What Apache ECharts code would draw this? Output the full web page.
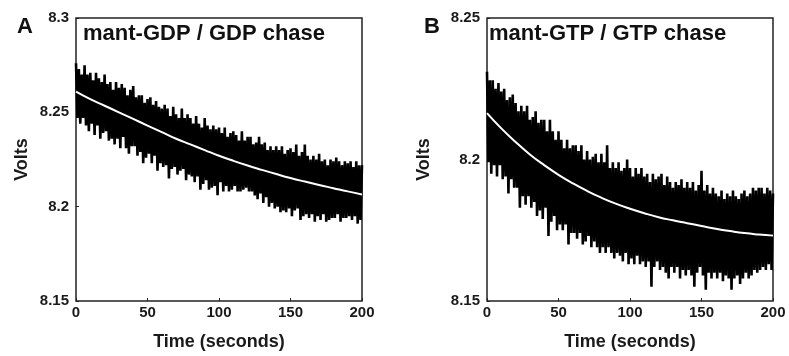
<!DOCTYPE html>
<html><head><meta charset="utf-8">
<script src="https://cdn.jsdelivr.net/npm/echarts@6/dist/echarts.min.js"></script>
<style>html,body{margin:0;padding:0;background:#fff}#c{width:789px;height:356px}</style>
</head><body><div id="c"></div>
<script>
// Panel A: mant-GDP / GDP chase, sampled every 1 s from 0 to 200 s
const traceA = [
8.276,8.247,8.273,8.244,8.270,8.247,8.275,8.243,8.270,8.240,
8.271,8.244,8.267,8.238,8.271,8.243,8.268,8.236,8.266,8.239,
8.270,8.240,8.265,8.235,8.266,8.236,8.262,8.233,8.266,8.236,
8.263,8.231,8.265,8.237,8.263,8.231,8.259,8.228,8.262,8.232,
8.264,8.232,8.258,8.227,8.259,8.229,8.259,8.223,8.255,8.226,
8.257,8.228,8.258,8.223,8.254,8.227,8.256,8.219,8.253,8.223,
8.252,8.221,8.254,8.222,8.252,8.215,8.248,8.220,8.253,8.221,
8.249,8.217,8.247,8.219,8.252,8.220,8.247,8.214,8.249,8.217,
8.247,8.216,8.244,8.213,8.248,8.216,8.244,8.209,8.242,8.212,
8.247,8.214,8.243,8.209,8.241,8.210,8.243,8.211,8.241,8.206,
8.242,8.213,8.239,8.208,8.242,8.211,8.237,8.208,8.239,8.209,
8.240,8.211,8.238,8.208,8.235,8.208,8.240,8.209,8.235,8.210,
8.237,8.208,8.237,8.208,8.233,8.206,8.234,8.204,8.237,8.207,
8.233,8.202,8.234,8.205,8.230,8.200,8.232,8.202,8.230,8.199,
8.232,8.200,8.230,8.197,8.232,8.198,8.228,8.197,8.230,8.199,
8.231,8.195,8.229,8.198,8.233,8.199,8.227,8.193,8.229,8.195,
8.233,8.196,8.227,8.194,8.225,8.196,8.227,8.192,8.225,8.195,
8.228,8.193,8.224,8.196,8.225,8.192,8.222,8.193,8.225,8.194,
8.224,8.194,8.226,8.196,8.224,8.192,8.222,8.194,8.224,8.194,
8.223,8.195,8.224,8.193,8.221,8.195,8.224,8.191,8.222,8.193,
8.222];
// Panel B: mant-GTP / GTP chase, sampled every 1 s from 0 to 200 s
const traceB = [
8.231,8.199,8.228,8.195,8.228,8.198,8.225,8.194,8.227,8.198,
8.224,8.193,8.225,8.194,8.221,8.188,8.222,8.193,8.223,8.190,
8.220,8.190,8.217,8.183,8.219,8.187,8.217,8.184,8.219,8.187,
8.214,8.183,8.215,8.185,8.217,8.180,8.213,8.182,8.214,8.179,
8.214,8.183,8.210,8.173,8.214,8.178,8.210,8.180,8.207,8.175,
8.210,8.177,8.207,8.175,8.204,8.177,8.207,8.170,8.204,8.174,
8.205,8.174,8.205,8.172,8.203,8.174,8.205,8.170,8.200,8.171,
8.203,8.173,8.200,8.169,8.201,8.171,8.202,8.169,8.199,8.167,
8.202,8.169,8.199,8.167,8.205,8.169,8.197,8.167,8.199,8.165,
8.197,8.167,8.199,8.166,8.196,8.164,8.197,8.167,8.200,8.163,
8.197,8.165,8.194,8.163,8.197,8.166,8.195,8.163,8.197,8.164,
8.194,8.162,8.195,8.164,8.192,8.155,8.195,8.162,8.193,8.164,
8.194,8.161,8.195,8.162,8.191,8.160,8.194,8.158,8.192,8.162,
8.190,8.160,8.192,8.162,8.191,8.158,8.193,8.161,8.190,8.159,
8.192,8.161,8.190,8.159,8.192,8.155,8.189,8.160,8.191,8.162,
8.196,8.159,8.189,8.154,8.191,8.160,8.188,8.158,8.190,8.160,
8.188,8.158,8.187,8.160,8.189,8.157,8.186,8.159,8.188,8.158,
8.187,8.154,8.189,8.158,8.187,8.159,8.186,8.156,8.188,8.158,
8.189,8.160,8.187,8.158,8.188,8.159,8.190,8.161,8.189,8.160,
8.190,8.161,8.190,8.162,8.188,8.161,8.190,8.163,8.189,8.161,
8.188];
const sampleStep = 1; // seconds between trace samples
// Fitted curves (white), read every 10 s
const fitTimes = [0,10,20,30,40,50,60,70,80,90,100,110,120,130,140,150,160,170,180,190,200];
const fitA = [8.261,8.257,8.2535,8.250,8.2465,8.243,8.2395,8.236,8.233,8.230,8.227,8.2243,8.2218,8.2195,8.2173,8.2152,8.2133,8.2115,8.2098,8.2081,8.2065];
const fitB = [8.2164,8.2110,8.2062,8.2018,8.1980,8.1946,8.1916,8.1889,8.1865,8.1844,8.1826,8.1810,8.1796,8.1785,8.1775,8.1765,8.1755,8.1747,8.1740,8.1735,8.1731];
const xTicks = [0,50,100,150,200];
const yTicksA = [8.15,8.2,8.25,8.3];
const yTicksB = [8.15,8.2,8.25];
const panelLetters = ['A','B'];
const panelTitles = ['mant-GDP / GDP chase','mant-GTP / GTP chase'];
const xName = 'Time (seconds)';
const yName = 'Volts';

const FONT = '"Liberation Sans", Arial, Helvetica, sans-serif';
const pairs = (ys, xs) => ys.map((v, i) => [xs ? xs[i] : i * sampleStep, v]);

const chart = echarts.init(document.getElementById('c'), null, {renderer: 'canvas'});
const grids = [
  {left: 76, top: 18, width: 286, height: 286},
  {left: 487, top: 18, width: 286, height: 287}
];
function xAxis(gi) {
  return {
    type: 'value', gridIndex: gi, min: xTicks[0], max: xTicks[xTicks.length - 1], interval: 50,
    axisLine: {show: false}, splitLine: {show: false},
    axisTick: {show: true, inside: true, length: 3, lineStyle: {color: '#222', width: 1}},
    axisLabel: {color: '#1a1a1a', fontFamily: FONT, fontWeight: 'bold', fontSize: 15, margin: 4},
    name: xName, nameLocation: 'middle', nameGap: 32,
    nameTextStyle: {color: '#1a1a1a', fontFamily: FONT, fontWeight: 'bold', fontSize: 18}
  };
}
function yAxis(gi, ticks, gap) {
  return {
    type: 'value', gridIndex: gi, min: ticks[0], max: ticks[ticks.length - 1], interval: 0.05,
    axisLine: {show: false}, splitLine: {show: false},
    axisTick: {show: true, inside: true, length: 3, lineStyle: {color: '#222', width: 1}},
    axisLabel: {color: '#1a1a1a', fontFamily: FONT, fontWeight: 'bold', fontSize: 15, margin: 7,
      formatter: v => String(+v.toFixed(2))},
    name: yName, nameLocation: 'middle', nameGap: gap, nameRotate: 90,
    nameTextStyle: {color: '#1a1a1a', fontFamily: FONT, fontWeight: 'bold', fontSize: 18}
  };
}
const option = {
  animation: false,
  backgroundColor: '#ffffff',
  title: [
    {text: panelLetters[0], left: 12, top: 11, textStyle: {fontFamily: FONT, fontWeight: 'bold', fontSize: 22, color: '#111'}},
    {text: panelLetters[1], left: 419, top: 11, textStyle: {fontFamily: FONT, fontWeight: 'bold', fontSize: 22, color: '#111'}},
    {text: panelTitles[0], left: 78, top: 18, textStyle: {fontFamily: FONT, fontWeight: 'bold', fontSize: 22, color: '#111'}},
    {text: panelTitles[1], left: 484, top: 18, textStyle: {fontFamily: FONT, fontWeight: 'bold', fontSize: 22, color: '#111'}}
  ],
  grid: grids.map(g => Object.assign({show: true, borderColor: '#222', borderWidth: 1.5, backgroundColor: 'transparent'}, g)),
  xAxis: [xAxis(0), xAxis(1)],
  yAxis: [yAxis(0, yTicksA, 45), yAxis(1, yTicksB, 54)],
  series: [
    {type: 'line', xAxisIndex: 0, yAxisIndex: 0, data: pairs(traceA), showSymbol: false, silent: true,
      lineStyle: {color: '#000', width: 2.6, join: 'bevel'}, z: 2},
    {type: 'line', xAxisIndex: 0, yAxisIndex: 0, data: pairs(fitA, fitTimes), smooth: true, showSymbol: false, silent: true,
      lineStyle: {color: '#ffffff', width: 2}, z: 3},
    {type: 'line', xAxisIndex: 1, yAxisIndex: 1, data: pairs(traceB), showSymbol: false, silent: true,
      lineStyle: {color: '#000', width: 2.6, join: 'bevel'}, z: 2},
    {type: 'line', xAxisIndex: 1, yAxisIndex: 1, data: pairs(fitB, fitTimes), smooth: true, showSymbol: false, silent: true,
      lineStyle: {color: '#ffffff', width: 2}, z: 3}
  ]
};
chart.setOption(option);
</script>
</body></html>
